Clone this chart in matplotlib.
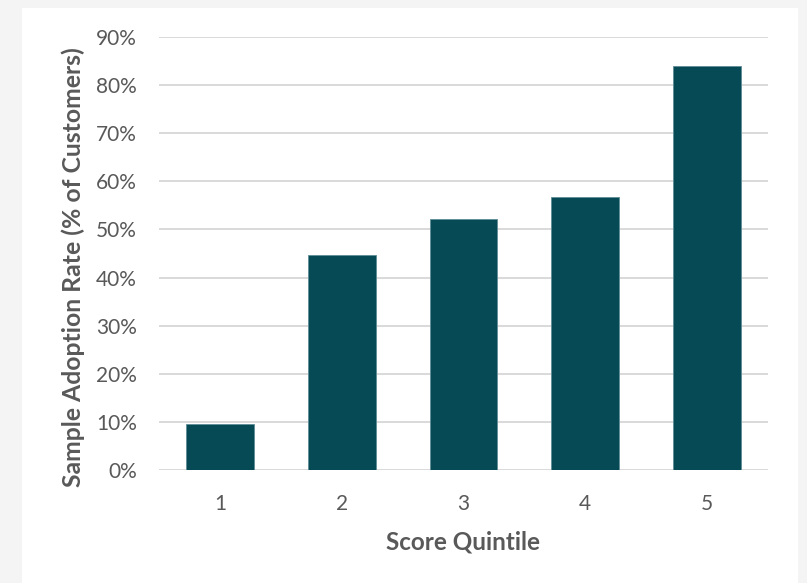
import matplotlib
matplotlib.use("Agg")
import matplotlib.pyplot as plt
from matplotlib.patches import Rectangle
from matplotlib.ticker import FuncFormatter, MultipleLocator

quintiles = ["1", "2", "3", "4", "5"]
adoption_rate = [9.5, 44.6, 52.1, 56.8, 84.0]  # percent of customers

W, H = 807, 583
fig = plt.figure(figsize=(W / 100, H / 100), dpi=100)
fig.patch.set_facecolor("#f4f4f4")

# white card behind the chart
fig.patches.append(Rectangle((22 / W, 0), (798 - 22) / W, (583 - 8) / H,
                             transform=fig.transFigure, facecolor="white",
                             edgecolor="none", zorder=-10))

ax = fig.add_axes([159 / W, (583 - 470) / H, (768 - 159) / W, (470 - 37) / H])
ax.set_zorder(1)
ax.set_facecolor("white")

text_color = "#595959"
font = ["Lato", "DejaVu Sans"]

x = range(len(quintiles))
ax.bar(x, adoption_rate, width=0.556, color="#064a55", edgecolor="#5f8e96",
       linewidth=0.6, zorder=3)

ax.set_xlim(-0.5, len(quintiles) - 0.5)
ax.set_ylim(0, 90)
ax.yaxis.set_major_locator(MultipleLocator(10))
ax.yaxis.set_major_formatter(FuncFormatter(lambda v, _: f"{v:.0f}%"))
ax.grid(axis="y", color="#d9d9d9", linewidth=1.4, zorder=0)
ax.set_axisbelow(True)

for s in ax.spines.values():
    s.set_visible(False)
ax.tick_params(axis="both", length=0, colors=text_color, labelsize=15)
ax.tick_params(axis="y", pad=16)
ax.tick_params(axis="x", pad=17)
ax.set_xticks(list(x))
ax.set_xticklabels(quintiles)
for lab in ax.get_xticklabels() + ax.get_yticklabels():
    lab.set_family(font)

ax.set_xlabel("Score Quintile", fontsize=17.5, fontweight="bold",
              color=text_color, family=font, labelpad=12)
ax.set_ylabel("Sample Adoption Rate (% of Customers)", fontsize=17.8,
              fontweight="bold", color=text_color, family=font, labelpad=7.5)
ax.yaxis.label.set_y(0.468)

fig.savefig("out.png", dpi=100, facecolor=fig.get_facecolor())
